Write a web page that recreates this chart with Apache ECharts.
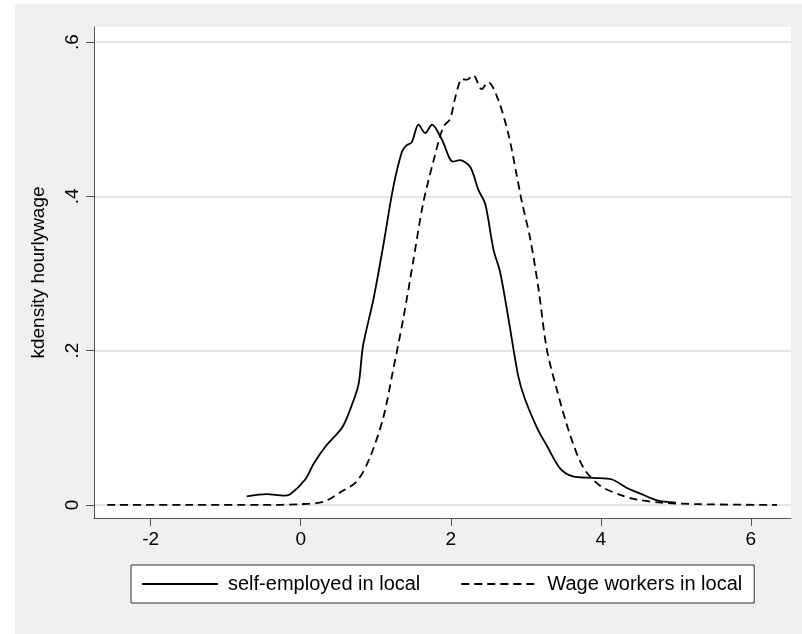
<!DOCTYPE html>
<html>
<head>
<meta charset="utf-8">
<script src="https://cdn.jsdelivr.net/npm/echarts@6/dist/echarts.min.js"></script>
<style>
html, body { margin: 0; padding: 0; background: #fff; }
#main { width: 802px; height: 634px; }
</style>
</head>
<body>
<div id="main"></div>
<script>
var myChart = echarts.init(document.getElementById('main'));

// self-employed in local: [hourlywage (log), density]
var selfEmployed = [
    [-0.72, 0.011], [-0.45, 0.014], [-0.23, 0.012], [-0.14, 0.014], [0.06, 0.033],
    [0.17, 0.053], [0.34, 0.077], [0.55, 0.100], [0.66, 0.124], [0.77, 0.156],
    [0.83, 0.206], [0.97, 0.267], [1.10, 0.336], [1.23, 0.410], [1.35, 0.458],
    [1.41, 0.466], [1.48, 0.470], [1.57, 0.493], [1.66, 0.482], [1.75, 0.493],
    [1.88, 0.474], [2.03, 0.445], [2.12, 0.447], [2.26, 0.438], [2.37, 0.408],
    [2.46, 0.390], [2.57, 0.331], [2.66, 0.301], [2.77, 0.241], [2.90, 0.167],
    [2.99, 0.137], [3.15, 0.100], [3.28, 0.077], [3.46, 0.047], [3.63, 0.037],
    [3.90, 0.035], [4.15, 0.033], [4.35, 0.022], [4.52, 0.015], [4.75, 0.006],
    [5.00, 0.003]
];

// Wage workers in local
var wageWorkers = [
    [-2.58, 0.000], [-1.50, 0.000], [-0.50, 0.000], [-0.02, 0.001], [0.30, 0.004],
    [0.52, 0.016], [0.75, 0.031], [0.92, 0.061], [1.10, 0.113], [1.23, 0.174],
    [1.37, 0.243], [1.50, 0.316], [1.63, 0.390], [1.77, 0.446], [1.90, 0.490],
    [1.99, 0.500], [2.06, 0.528], [2.15, 0.552], [2.21, 0.551], [2.30, 0.557],
    [2.41, 0.539], [2.50, 0.548], [2.63, 0.526], [2.77, 0.480], [2.88, 0.427],
    [2.95, 0.392], [3.06, 0.345], [3.17, 0.280], [3.28, 0.202], [3.41, 0.151],
    [3.59, 0.091], [3.77, 0.048], [3.99, 0.025], [4.26, 0.013], [4.48, 0.007],
    [4.80, 0.003], [5.30, 0.001], [6.35, 0.000]
];

var xTicks = [-2, 0, 2, 4, 6];
var yTicks = [0, 0.2, 0.4, 0.6];

var option = {
    backgroundColor: '#ffffff',
    animation: false,
    textStyle: { fontFamily: 'Liberation Sans, Arial, sans-serif' },
    graphic: [{
        type: 'rect', z: -10, silent: true,
        shape: { x: 15, y: 4, width: 787, height: 630 },
        style: { fill: '#f0f0f0' }
    }, {
        type: 'rect', z: -9, silent: true,
        shape: { x: 94, y: 27, width: 697, height: 491 },
        style: { fill: '#ffffff' }
    }],
    grid: { left: 94, top: 27, width: 697, height: 491 },
    legend: {
        left: 131, top: 565,
        backgroundColor: '#ffffff',
        borderColor: '#333', borderWidth: 1,
        padding: [9, 12, 9, 10],
        itemGap: 40, itemWidth: 76, itemHeight: 20,
        itemStyle: { opacity: 0 },
        textStyle: { fontSize: 20, color: '#000', padding: [0, 0, 0, 5] },
        data: [
            { name: 'self-employed in local' },
            { name: 'Wage workers in local' }
        ]
    },
    xAxis: {
        type: 'value', min: -2.756, max: 6.536,
        splitLine: { show: false },
        axisLine: { onZero: false, lineStyle: { color: '#555' } },
        axisTick: { length: 8, lineStyle: { color: '#555' }, customValues: xTicks },
        axisLabel: { fontSize: 19, color: '#000', margin: 12, customValues: xTicks }
    },
    yAxis: {
        type: 'value', min: -0.0169, max: 0.6195,
        name: 'kdensity hourlywage',
        nameLocation: 'middle', nameGap: 46, nameRotate: 90,
        nameTextStyle: { fontSize: 19, color: '#000' },
        splitLine: { show: true, lineStyle: { color: '#e6e6e6', width: 2 }, customValues: yTicks },
        axisLine: { show: true, onZero: false, lineStyle: { color: '#555' } },
        axisTick: { show: true, length: 8, lineStyle: { color: '#555' }, customValues: yTicks },
        axisLabel: {
            fontSize: 19, color: '#000', rotate: 90, margin: 12, customValues: yTicks,
            formatter: function (v) {
                return v === 0 ? '0' : String(+v.toFixed(1)).replace(/^0/, '');
            }
        }
    },
    series: [{
        name: 'self-employed in local',
        type: 'line', symbol: 'none', smooth: 0.3,
        lineStyle: { color: '#000', width: 1.8, type: 'solid' },
        itemStyle: { color: '#000' },
        data: selfEmployed
    }, {
        name: 'Wage workers in local',
        type: 'line', symbol: 'none', smooth: 0.3,
        lineStyle: { color: '#000', width: 1.8, type: [8, 5] },
        itemStyle: { color: '#000' },
        data: wageWorkers
    }]
};

myChart.setOption(option);
</script>
</body>
</html>
